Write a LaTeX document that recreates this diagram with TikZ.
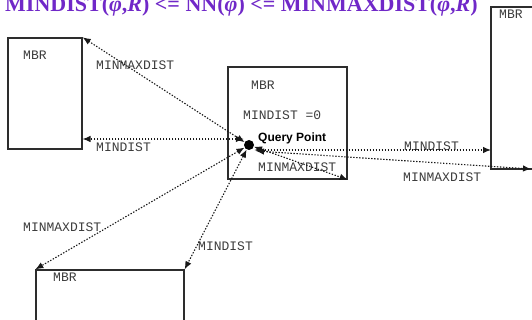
\documentclass[tikz,border=0pt]{standalone}
\usepackage{fontspec}
\setmainfont{Liberation Serif}
\newfontfamily\monof{Liberation Mono}
\newfontfamily\sansf{Liberation Sans}
\usetikzlibrary{arrows.meta,calc}
\definecolor{titlec}{RGB}{112,40,200}
\definecolor{boxc}{RGB}{45,45,45}
\definecolor{txtc}{RGB}{60,60,60}
\begin{document}
\begin{tikzpicture}[x=1pt,y=-1pt,
  mbr/.style={draw=boxc,line width=1.3pt,inner sep=0pt},
  lbl/.style={font=\monof\fontsize{13}{13}\selectfont, text=txtc, anchor=west, inner sep=0pt},
  conn/.style={draw=black!90, line width=1.1pt, dash pattern=on 1.4pt off 1.6pt,
    {Latex[length=8pt,width=6.5pt]}-{Latex[length=8pt,width=6.5pt]}}]
\useasboundingbox (0,0) rectangle (532,320);
\clip (0,0) rectangle (532,320);
% title
\node[anchor=base west, inner sep=0pt, text=titlec,
  font=\bfseries\fontsize{22}{22}\selectfont] (title) at (5,12)
  {MINDIST(\textit{φ},\textit{R}) <= NN(\textit{φ}) <= MINMAXDIST(\textit{φ},\textit{R})};
% boxes
\node[mbr, minimum width=74pt, minimum height=111pt] (L) at (45,93.5) {};
\node[mbr, minimum width=119pt, minimum height=112pt] (C) at (287.5,123) {};
\node[mbr, minimum width=109pt, minimum height=162pt] (R) at (545.5,88) {};
\node[mbr, minimum width=148pt, minimum height=90pt] (B) at (110,315) {};
% query point
\node[circle, fill=black, minimum size=10pt, inner sep=0pt] (q) at (249,145) {};
% labels
\node[lbl] (lmbr) at (23,55) {MBR};
\node[lbl] (l1) at (96,65) {MINMAXDIST};
\node[lbl] (l2) at (96,147) {MINDIST};
\node[lbl] (cmbr) at (251,85) {MBR};
\node[lbl] (c1) at (243,115) {MINDIST =0};
\node[anchor=west, inner sep=0pt, font=\sansf\bfseries\fontsize{12}{12}\selectfont] (qp) at (258,138) {Query Point};
\node[lbl] (c2) at (258,167) {MINMAXDIST};
\node[lbl] (rmbr) at (499,14) {MBR};
\node[lbl] (r1) at (404,146) {MINDIST};
\node[lbl] (r2) at (403,177) {MINMAXDIST};
\node[lbl] (b1) at (23,227) {MINMAXDIST};
\node[lbl] (b2) at (198,246) {MINDIST};
\node[lbl] (bmbr) at (53,277) {MBR};
% connector end points
\coordinate (lmin) at (82.5,139);
\coordinate (rmin) at (491,150);
\coordinate (rmax) at (531,169);
\coordinate (qr) at ($(q)+(7,6)$);
% connectors
\draw[conn] (q) -- (L.north east);
\draw[conn] (lmin -| q.west) -- (lmin);
\draw[conn] (rmin -| q.east) -- (rmin);
\draw[conn] (qr) -- (rmax);
\draw[conn] (q) -- (C.south east);
\draw[conn] (q) -- (B.north west);
\draw[conn] (q) -- (B.north east);
\end{tikzpicture}
\end{document}
